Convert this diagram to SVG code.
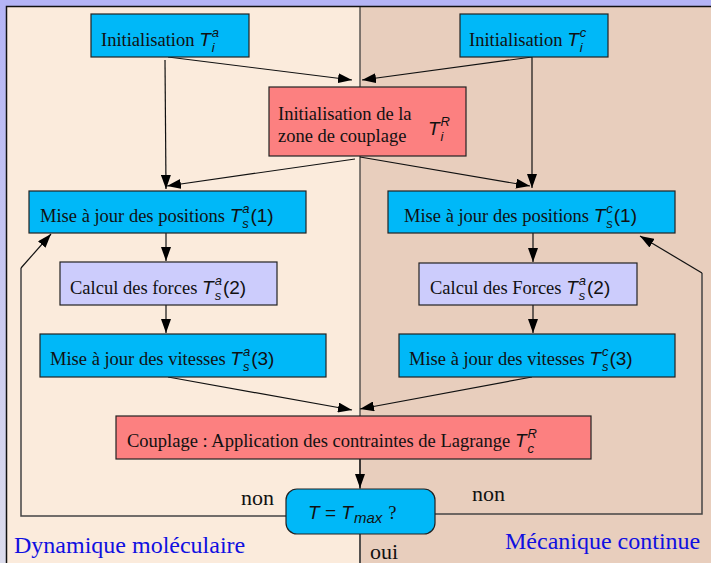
<svg xmlns="http://www.w3.org/2000/svg" width="711" height="563" viewBox="0 0 711 563">
<defs>
<linearGradient id="lg" x1="0" y1="0" x2="0" y2="1">
<stop offset="0" stop-color="#b4b4f6"/>
<stop offset="1" stop-color="#dcdcec"/>
</linearGradient>
<marker id="ah" markerWidth="14" markerHeight="10" refX="14" refY="5" orient="auto" markerUnits="userSpaceOnUse">
<path d="M0,0 L14,5 L0,10 Z" fill="#000"/>
</marker>
<style>
.box{stroke:#222;stroke-width:1.2}
.blue{fill:#00b8f8}
.red{fill:#fc8080}
.lav{fill:#ccccfc}
.t{font-family:"Liberation Serif",serif;font-size:18.5px;fill:#111}
.m{font-family:"Liberation Sans",sans-serif;font-style:italic;font-size:19px;fill:#111}
.mr{font-family:"Liberation Sans",sans-serif;font-style:normal;font-size:19px;fill:#111}
.s{font-size:13px}
.lbl{font-family:"Liberation Serif",serif;font-size:22px;fill:#111}
.side{font-family:"Liberation Serif",serif;font-size:24px;fill:#1010e0}
.c{fill:none;stroke:#111;stroke-width:1.2}
.g{fill:none;stroke:#444;stroke-width:1.5}
</style>
</defs>
<rect x="0" y="0" width="711" height="563" fill="url(#lg)"/>
<rect x="0" y="0" width="711" height="6" fill="#b4b4f6"/>
<rect x="7" y="7" width="353" height="556" fill="#fbebdc"/>
<rect x="360" y="7" width="351" height="556" fill="#e8cebd"/>
<path d="M6.5,563 V6.5 H711" fill="none" stroke="#111" stroke-width="1.5"/>
<line x1="360" y1="7" x2="360" y2="563" stroke="#333" stroke-width="1.2"/>

<g id="connectors">
<line class="c" x1="168" y1="57" x2="352" y2="80" marker-end="url(#ah)"/>
<line class="c" x1="532" y1="57" x2="362" y2="80" marker-end="url(#ah)"/>
<line class="c" x1="165" y1="60" x2="166" y2="189" marker-end="url(#ah)"/>
<line class="c" x1="532" y1="57" x2="532" y2="188" marker-end="url(#ah)"/>
<line class="c" x1="355" y1="159" x2="167" y2="186" marker-end="url(#ah)"/>
<line class="c" x1="360" y1="157" x2="530" y2="186" marker-end="url(#ah)"/>
<line class="c" x1="166" y1="233" x2="166" y2="261" marker-end="url(#ah)"/>
<line class="c" x1="166" y1="305" x2="166" y2="333" marker-end="url(#ah)"/>
<line class="c" x1="533" y1="233" x2="533" y2="262" marker-end="url(#ah)"/>
<line class="c" x1="533" y1="305" x2="533" y2="333" marker-end="url(#ah)"/>
<line class="c" x1="168" y1="377" x2="352" y2="410" marker-end="url(#ah)"/>
<line class="c" x1="532" y1="377" x2="360" y2="409" marker-end="url(#ah)"/>
<line class="c" x1="360" y1="459" x2="360" y2="488" marker-end="url(#ah)"/>
<polyline class="g" points="286,516 21,516 21,268"/>
<line class="c" x1="21" y1="268" x2="51" y2="234" marker-end="url(#ah)"/>
<polyline class="g" points="435,514 702,514 702,273"/>
<line class="c" x1="702" y1="273" x2="640" y2="236" marker-end="url(#ah)"/>
<line class="g" x1="360" y1="534" x2="360" y2="563"/>
</g>

<g id="init-a">
<rect class="box blue" x="91" y="14" width="158" height="43"/>
<text class="t" x="101" y="46">Initialisation <tspan class="m">T</tspan><tspan class="m s" dx="1" dy="-9">a</tspan><tspan class="m s" dx="-7.2" dy="15">i</tspan></text>
</g>
<g id="init-c">
<rect class="box blue" x="460" y="14" width="148" height="43"/>
<text class="t" x="469" y="46">Initialisation <tspan class="m">T</tspan><tspan class="m s" dx="1" dy="-9">c</tspan><tspan class="m s" dx="-6.5" dy="15">i</tspan></text>
</g>
<g id="init-r">
<rect class="box red" x="269" y="87" width="197" height="69"/>
<text class="t" x="278" y="120">Initialisation de la</text>
<text class="t" x="278" y="142">zone de couplage</text>
<text class="m" x="428" y="135">T<tspan class="s" dx="1" dy="-9">R</tspan><tspan class="s" dx="-9.4" dy="15">i</tspan></text>
</g>
<g id="pos-a">
<rect class="box blue" x="29" y="191" width="277" height="42"/>
<text class="t" x="40" y="222">Mise à jour des positions <tspan class="m">T</tspan><tspan class="m s" dx="1" dy="-9">a</tspan><tspan class="m s" dx="-7.2" dy="15">s</tspan><tspan class="mr" dx="1.7" dy="-6">(1)</tspan></text>
</g>
<g id="forces-a">
<rect class="box lav" x="60" y="262" width="217" height="43"/>
<text class="t" x="70" y="294">Calcul des forces <tspan class="m">T</tspan><tspan class="m s" dx="1" dy="-9">a</tspan><tspan class="m s" dx="-7.2" dy="15">s</tspan><tspan class="mr" dx="1.7" dy="-6">(2)</tspan></text>
</g>
<g id="vit-a">
<rect class="box blue" x="40" y="334" width="286" height="43"/>
<text class="t" x="50" y="365">Mise à jour des vitesses <tspan class="m">T</tspan><tspan class="m s" dx="1" dy="-9">a</tspan><tspan class="m s" dx="-7.2" dy="15">s</tspan><tspan class="mr" dx="1.7" dy="-6">(3)</tspan></text>
</g>
<g id="pos-c">
<rect class="box blue" x="388" y="191" width="287" height="42"/>
<text class="t" x="404" y="222">Mise à jour des positions <tspan class="m">T</tspan><tspan class="m s" dx="1" dy="-9">c</tspan><tspan class="m s" dx="-6.5" dy="15">s</tspan><tspan class="mr" dx="1" dy="-6">(1)</tspan></text>
</g>
<g id="forces-c">
<rect class="box lav" x="419" y="263" width="218" height="42"/>
<text class="t" x="430" y="294">Calcul des Forces <tspan class="m">T</tspan><tspan class="m s" dx="1" dy="-9">a</tspan><tspan class="m s" dx="-7.2" dy="15">s</tspan><tspan class="mr" dx="1.7" dy="-6">(2)</tspan></text>
</g>
<g id="vit-c">
<rect class="box blue" x="399" y="334" width="276" height="43"/>
<text class="t" x="409" y="365">Mise à jour des vitesses <tspan class="m">T</tspan><tspan class="m s" dx="1" dy="-9">c</tspan><tspan class="m s" dx="-6.5" dy="15">s</tspan><tspan class="mr" dx="1" dy="-6">(3)</tspan></text>
</g>
<g id="couplage">
<rect class="box red" x="116" y="416" width="475" height="43"/>
<text class="t" x="127" y="447">Couplage : Application des contraintes de Lagrange <tspan class="m">T</tspan><tspan class="m s" dx="1" dy="-9">R</tspan><tspan class="m s" dx="-9.4" dy="15">c</tspan></text>
</g>
<g id="decision">
<rect class="box blue" x="286" y="489" width="149" height="45" rx="11"/>
<text class="m" x="308" y="519">T <tspan class="mr">=</tspan> T<tspan dx="1" dy="4" font-size="15">max</tspan><tspan class="t" dx="6" dy="-4" font-style="normal">?</tspan></text>
</g>
<g id="labels">
<text class="lbl" x="241" y="505">non</text>
<text class="lbl" x="472" y="501">non</text>
<text class="lbl" x="370" y="559">oui</text>
<text class="side" x="14" y="553">Dynamique moléculaire</text>
<text class="side" x="505" y="549">Mécanique continue</text>
</g>
</svg>
